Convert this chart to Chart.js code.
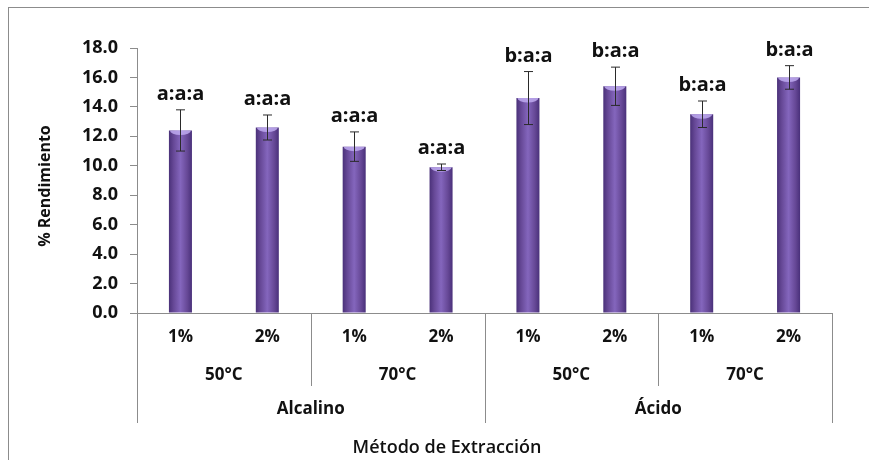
<!DOCTYPE html>
<html>
<head>
<meta charset="utf-8">
<script src="https://cdn.jsdelivr.net/npm/chart.js@4.4.1/dist/chart.umd.min.js"></script>
<style>
    html, body { margin: 0; padding: 0; background: #fff; }
</style>
</head>
<body>
<canvas id="myChart" width="869" height="460"></canvas>
<script>
// datos
const concentraciones = ['1%', '2%', '1%', '2%', '1%', '2%', '1%', '2%'];
const temperaturas = ['50°C', '70°C', '50°C', '70°C'];
const metodos = ['Alcalino', 'Ácido'];
const rendimiento = [12.4, 12.6, 11.3, 9.9, 14.6, 15.4, 13.5, 16.0];
const errores = [1.4, 0.85, 1.0, 0.22, 1.8, 1.3, 0.9, 0.8];
const letras = ['a:a:a', 'a:a:a', 'a:a:a', 'a:a:a', 'b:a:a', 'b:a:a', 'b:a:a', 'b:a:a'];
const tituloY = '% Rendimiento';
const tituloX = 'Método de Extracción';

const FONT = "'Open Sans', 'Liberation Sans', sans-serif";
const GRIS = '#8c8c8c';
const ANCHO_BARRA = 0.265;

function rellenoBarra(context) {
    const chart = context.chart;
    const area = chart.chartArea;
    if (!area) return '#6f52a8';
    const cx = chart.scales.x.getPixelForValue(context.dataIndex);
    const half = (area.width / rendimiento.length) * ANCHO_BARRA / 2;
    const g = chart.ctx.createLinearGradient(cx - half, 0, cx + half, 0);
    g.addColorStop(0, '#4a3179');
    g.addColorStop(0.2, '#664896');
    g.addColorStop(0.5, '#8466bd');
    g.addColorStop(0.8, '#664896');
    g.addColorStop(1, '#49307a');
    return g;
}

// marco, barras de error, letras y ejes agrupados
const extras = {
    id: 'extras',
    beforeDraw(chart) {
        const ctx = chart.ctx;
        ctx.save();
        ctx.fillStyle = '#fff';
        ctx.fillRect(0, 0, chart.width, chart.height);
        ctx.strokeStyle = GRIS;
        ctx.lineWidth = 1;
        ctx.strokeRect(8.5, 7.5, chart.width + 20, chart.height + 20);
        ctx.restore();
    },
    afterDatasetsDraw(chart) {
        const ctx = chart.ctx;
        const xs = chart.scales.x;
        const ys = chart.scales.y;
        const area = chart.chartArea;
        const meta = chart.getDatasetMeta(0);
        ctx.save();

        // brillo en la parte superior de cada barra
        meta.data.forEach(function (bar) {
            const w = bar.width;
            ctx.save();
            ctx.beginPath();
            ctx.rect(bar.x - w / 2, bar.y, w, 8);
            ctx.clip();
            ctx.beginPath();
            ctx.ellipse(bar.x, bar.y, w / 2 - 1, 4.5, 0, 0, Math.PI * 2);
            ctx.fillStyle = 'rgba(190, 170, 240, 0.85)';
            ctx.fill();
            ctx.restore();
        });

        // barras de error y letras
        rendimiento.forEach(function (v, i) {
            const cx = Math.round(xs.getPixelForValue(i)) + 0.5;
            const yTop = ys.getPixelForValue(v + errores[i]);
            const yBot = ys.getPixelForValue(v - errores[i]);
            ctx.strokeStyle = '#2a2a2a';
            ctx.lineWidth = 1;
            ctx.beginPath();
            ctx.moveTo(cx, yTop);
            ctx.lineTo(cx, yBot);
            ctx.moveTo(cx - 4.5, yTop);
            ctx.lineTo(cx + 4.5, yTop);
            ctx.moveTo(cx - 4.5, yBot);
            ctx.lineTo(cx + 4.5, yBot);
            ctx.stroke();

            ctx.fillStyle = '#111';
            ctx.font = 'bold 20px ' + FONT;
            ctx.textAlign = 'center';
            ctx.textBaseline = 'alphabetic';
            ctx.fillText(letras[i], cx, yTop - 10);
        });

        // eje x agrupado
        const paso = area.width / concentraciones.length;
        const borde = function (i) { return Math.round(area.left + i * paso) + 0.5; };
        const base = area.bottom;
        ctx.strokeStyle = GRIS;
        ctx.lineWidth = 1;
        ctx.beginPath();
        for (let i = 0; i <= concentraciones.length; i += 2) {
            const largo = (i % 4 === 0) ? 110 : 73;
            ctx.moveTo(borde(i), base);
            ctx.lineTo(borde(i), base + largo);
        }
        ctx.stroke();

        ctx.fillStyle = '#111';
        ctx.textAlign = 'center';
        ctx.textBaseline = 'middle';
        ctx.font = 'bold 17px ' + FONT;
        concentraciones.forEach(function (c, i) {
            ctx.fillText(c, xs.getPixelForValue(i), base + 24);
        });
        temperaturas.forEach(function (t, i) {
            const x = (xs.getPixelForValue(2 * i) + xs.getPixelForValue(2 * i + 1)) / 2;
            ctx.fillText(t, x, base + 62);
        });
        metodos.forEach(function (m, i) {
            const x = (xs.getPixelForValue(4 * i) + xs.getPixelForValue(4 * i + 3)) / 2;
            ctx.fillText(m, x, base + 96);
        });

        ctx.font = '600 18px ' + FONT;
        ctx.fillText(tituloX, 447, base + 135);

        ctx.save();
        ctx.translate(45, 186);
        ctx.rotate(-Math.PI / 2);
        ctx.font = 'bold 16px ' + FONT;
        ctx.fillText(tituloY, 0, 0);
        ctx.restore();

        ctx.restore();
    }
};

const ctx1 = document.getElementById('myChart').getContext('2d');

new Chart(ctx1, {
    type: 'bar',
    data: {
        labels: concentraciones,
        datasets: [{
            label: '% Rendimiento',
            data: rendimiento,
            backgroundColor: rellenoBarra,
            borderWidth: 0,
            categoryPercentage: 1,
            barPercentage: ANCHO_BARRA
        }]
    },
    options: {
        responsive: false,
        animation: false,
        layout: {
            padding: { left: 0, right: 37, top: 48, bottom: 0 }
        },
        plugins: {
            legend: { display: false },
            tooltip: { enabled: false }
        },
        scales: {
            x: {
                ticks: { display: false },
                grid: { display: false },
                border: { color: GRIS },
                afterFit: function (scale) { scale.height = 147; }
            },
            y: {
                min: 0,
                max: 18,
                ticks: {
                    stepSize: 2,
                    padding: 12,
                    color: '#111',
                    font: { family: FONT, size: 18, weight: 'bold' },
                    callback: function (v) { return v.toFixed(1); }
                },
                grid: {
                    drawOnChartArea: false,
                    drawTicks: true,
                    tickLength: 7,
                    color: GRIS
                },
                border: { color: GRIS },
                afterFit: function (scale) { scale.width = 137; }
            }
        }
    },
    plugins: [extras]
});
</script>
</body>
</html>
